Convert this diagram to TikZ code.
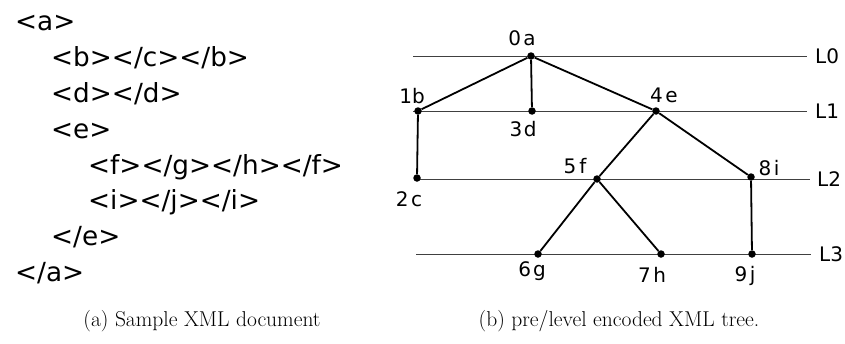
\documentclass[tikz,border=0pt]{standalone}
\usepackage{fontspec}
\newfontfamily\xmlfont{DejaVu Sans}
\begin{document}
\begin{tikzpicture}[x=1pt,y=-1pt,
  xmltext/.style={anchor=base west,inner sep=0pt,font=\xmlfont\fontsize{26.3}{30}\selectfont},
  treedot/.style={circle,fill=black,inner sep=0pt,minimum size=7.5pt},
  treeedge/.style={line width=1.8pt},
  levelline/.style={line width=0.9pt,black!75},
  nodelbl/.style={inner sep=0pt,font=\xmlfont\fontsize{20}{24}\selectfont},
  levellbl/.style={anchor=west,inner sep=0pt,font=\xmlfont\fontsize{20}{24}\selectfont},
  captext/.style={anchor=base,inner sep=0pt,font=\fontsize{21.5}{26}\selectfont}]
\useasboundingbox (0,0) rectangle (845,343);
% XML document
\node[xmltext] (x1) at (15,30) {<a>};
\node[xmltext] (x2) at (51,66) {<b></c></b>};
\node[xmltext] (x3) at (51,102) {<d></d>};
\node[xmltext] (x4) at (51,138) {<e>};
\node[xmltext] (x5) at (88,174) {<f></g></h></f>};
\node[xmltext] (x6) at (88,209) {<i></j></i>};
\node[xmltext] (x7) at (51,245) {</e>};
\node[xmltext] (x8) at (15,281) {</a>};
% level lines
\coordinate (l0a) at (413,56); \coordinate (l0b) at (807,56);
\coordinate (l1a) at (413,111); \coordinate (l1b) at (807,111);
\coordinate (l2a) at (416,179); \coordinate (l2b) at (810,179);
\coordinate (l3a) at (416,254); \coordinate (l3b) at (811,254);
\draw[levelline] (l0a) -- (l0b);
\draw[levelline] (l1a) -- (l1b);
\draw[levelline] (l2a) -- (l2b);
\draw[levelline] (l3a) -- (l3b);
\node[levellbl] (L0) at (815,56) {L0};
\node[levellbl] (L1) at (815,111) {L1};
\node[levellbl] (L2) at (817,179) {L2};
\node[levellbl] (L3) at (819,254) {L3};
% tree nodes
\node[treedot] (n0) at (531,56) {};
\node[treedot] (n1) at (418,111) {};
\node[treedot] (n2) at (417,178) {};
\node[treedot] (n3) at (532,111) {};
\node[treedot] (n4) at (656,111) {};
\node[treedot] (n5) at (597,179) {};
\node[treedot] (n6) at (538,254) {};
\node[treedot] (n7) at (661,254) {};
\node[treedot] (n8) at (751,177) {};
\node[treedot] (n9) at (752,254) {};
\draw[treeedge] (n0) -- (n1);
\draw[treeedge] (n0) -- (n3);
\draw[treeedge] (n0) -- (n4);
\draw[treeedge] (n1) -- (n2);
\draw[treeedge] (n4) -- (n5);
\draw[treeedge] (n4) -- (n8);
\draw[treeedge] (n5) -- (n6);
\draw[treeedge] (n5) -- (n7);
\draw[treeedge] (n8) -- (n9);
% labels
\node[nodelbl] (t0) at (522,38) {0\hspace{2.5pt}a};
\node[nodelbl] (t1) at (412,96) {1b};
\node[nodelbl] (t2) at (409,199) {2\hspace{2.5pt}c};
\node[nodelbl] (t3) at (523,129) {3\hspace{1.5pt}d};
\node[nodelbl] (t4) at (664,95) {4\hspace{2.5pt}e};
\node[nodelbl] (t5) at (575,166) {5\hspace{3pt}f};
\node[nodelbl] (t6) at (532,271) {6\hspace{2pt}g};
\node[nodelbl] (t7) at (652,275) {7\hspace{2.5pt}h};
\node[nodelbl] (t8) at (769,168) {8\hspace{2.5pt}i};
\node[nodelbl] (t9) at (745,276) {9\hspace{2.5pt}j};
% captions
\node[captext] (ca) at (202,326) {(a) Sample XML document};
\node[captext] (cb) at (619,326) {(b) pre/level encoded XML tree.};
\end{tikzpicture}
\end{document}
